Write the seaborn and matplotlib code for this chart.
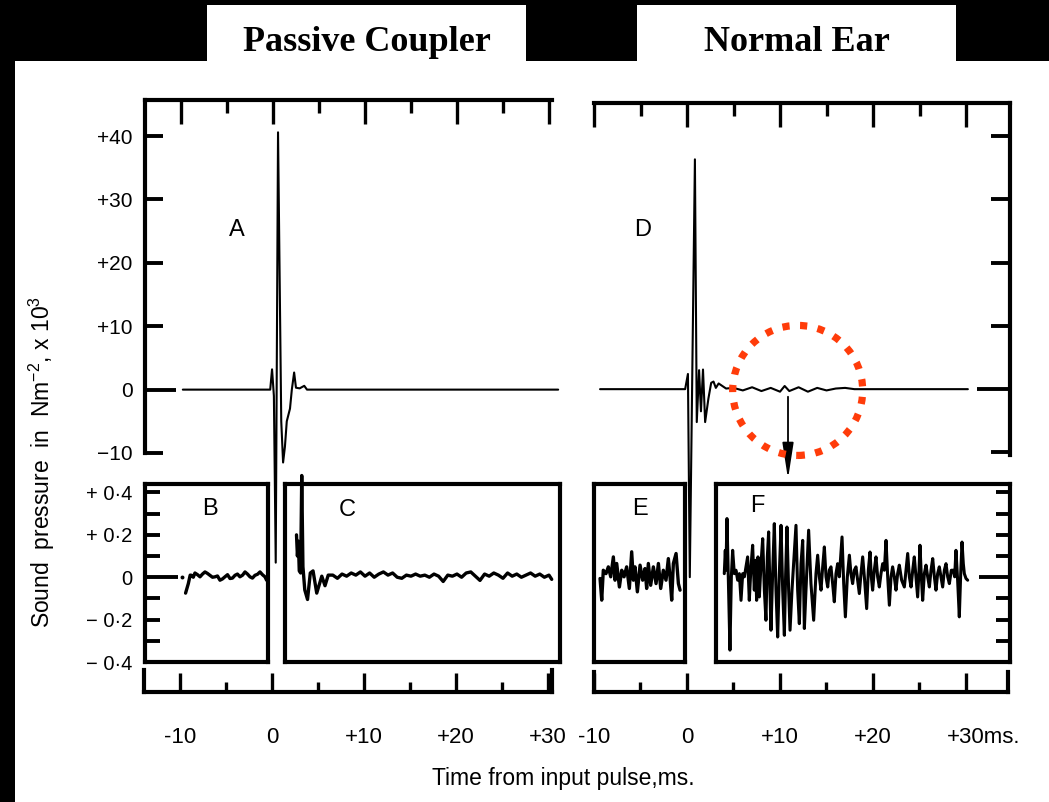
import numpy as np
import pandas as pd
import matplotlib
matplotlib.use("Agg")
import matplotlib.pyplot as plt
import seaborn as sns
from matplotlib.patches import Rectangle, Ellipse
from matplotlib.ticker import FixedLocator

# ---------------- data (time in ms, pressure) ----------------
A_t = [-9.8, -0.3, -0.1, 0.1, 0.3, 0.55, 0.9, 1.1, 1.3, 1.5, 1.85, 2.05, 2.3, 2.5, 2.9, 3.4, 3.7, 31.0]
A_v = [0, 0, 3.2, -1, -27.3, 40.6, -5, -11.5, -9, -5, -3, 0, 2.7, 0.3, 0.2, 0.6, 0, 0]

D_t = [-9.35, -0.2, 0.1, 0.3, 0.85, 1.05, 1.3, 1.5, 1.72, 1.95, 2.3, 2.6, 2.85, 3.1, 3.4, 3.7, 4.2,
       5.0, 6.0, 7.0, 8.0, 9.0, 10.0, 10.5, 11.0, 12.0, 13.0, 14.0, 15.0, 16.0, 17.0, 18.0, 30.2]
D_v = [0, 0, 2.4, -29.7, 36.3, -5.2, 3.0, -3.5, 3.1, -5.2, -1.5, 1.0, 1.2, 0.2, 0.9, 0.6, 0.1,
       0.2, -0.2, 0.3, -0.3, 0.2, -0.4, 0.5, -0.3, 0.3, -0.4, 0.2, -0.2, 0.1, 0.2, 0, 0]

B_t = [-9.5, -9.2, -9.0, -8.84, -8.66, -8.48, -8.2, -7.93, -7.66, -7.39, -7.12, -6.85, -6.57, -6.30,
       -6.03, -5.76, -5.49, -5.22, -4.94, -4.67, -4.4, -4.13, -3.86, -3.59, -3.3, -3.04, -2.77,
       -2.50, -2.23, -1.96, -1.68, -1.41, -1.14, -0.87, -0.69]
B_v = [-0.075, -0.03, 0.01, 0.009, 0.0, 0.020, 0.012, 0.002, 0.015, 0.025, 0.018, 0.009, 0.0, 0.002,
       0.006, -0.014, -0.008, 0.002, 0.012, -0.006, -0.004, 0.009, 0.015, 0.002, 0.01, 0.025, 0.015,
       0.002, -0.004, 0.009, 0.014, 0.025, 0.012, 0.002, -0.014]
B_dot_t = [-9.9]
B_dot_v = [0.0]

C_t = [2.55, 2.65, 2.75, 2.85, 3.0, 3.12, 3.25, 3.45, 3.75, 4.05, 4.35, 4.75, 5.3, 5.65, 6.0,
       6.5, 7.0, 7.5, 8.0, 8.5, 9.0, 9.5, 10.0, 10.5, 11.0, 11.5, 12.0, 12.5, 13.0, 13.5, 14.0,
       14.5, 15.0, 15.5, 16.0, 16.5, 17.0, 17.5, 18.0, 18.5, 19.0, 19.5, 20.0, 20.5, 21.0, 21.5,
       22.0, 22.5, 23.0, 23.5, 24.0, 24.5, 25.0, 25.5, 26.0, 26.5, 27.0, 27.5, 28.0, 28.5, 29.0,
       29.5, 30.0, 30.3]
C_v = [0.20, 0.10, 0.17, 0.03, 0.02, 0.48, 0.05, -0.06, -0.105, 0.02, 0.03, -0.075, 0.005, -0.04, 0.01,
       0.01, -0.005, 0.015, 0.005, 0.02, 0.01, 0.025, 0.005, 0.02, 0.0, 0.015, 0.025, 0.01, 0.02, 0.0,
       -0.005, 0.01, 0.005, 0.015, 0.005, 0.01, 0.0, 0.015, 0.005, -0.02, 0.01, 0.005, 0.015, 0.0,
       0.02, 0.025, 0.005, -0.015, 0.015, 0.005, 0.02, 0.01, -0.005, 0.02, 0.005, 0.015, 0.0, 0.01,
       0.02, 0.005, 0.015, 0.0, 0.01, -0.01]

E_t = [-9.35, -9.17, -9.0, -8.71, -8.46, -8.2, -7.92, -7.74, -7.56, -7.27, -7.02, -6.77, -6.49, -6.2,
       -5.95, -5.77, -5.59, -5.34, -5.05, -4.77, -4.52, -4.34, -4.16, -3.91, -3.62, -3.33, -3.08,
       -2.83, -2.55, -2.26, -2.01, -1.83, -1.65, -1.47, -1.18, -0.93, -0.75]
E_v = [-0.006, -0.108, 0.033, 0.017, 0.049, 0.002, 0.096, -0.014, 0.065, -0.046, 0.033, 0.002, 0.049,
       -0.053, 0.12, -0.014, 0.049, -0.069, 0.057, -0.014, 0.041, -0.053, 0.065, -0.038, 0.049, -0.030,
       0.065, -0.053, 0.033, -0.014, 0.088, 0.002, -0.108, 0.065, 0.112, -0.030, -0.061]

F_t = [4.01, 4.12, 4.19, 4.30, 4.48, 4.62, 4.77, 4.91, 5.09, 5.27, 5.45, 5.63, 5.81, 5.99, 6.17, 6.34,
       6.52, 6.70, 6.88, 7.06, 7.24, 7.35, 7.49, 7.63, 7.78, 7.96, 8.14, 8.32, 8.49, 8.64, 8.78, 8.92,
       9.03, 9.21, 9.39, 9.57, 9.75, 9.93, 10.11, 10.29, 10.47, 10.61, 10.75, 10.93, 11.08, 11.29,
       11.51, 11.72, 11.90, 12.08, 12.26, 12.44, 12.55, 12.62, 12.87, 13.08, 13.33, 13.62, 13.87,
       14.05, 14.23, 14.41, 14.59, 14.77, 14.95, 15.13, 15.30, 15.48, 15.66, 15.84, 16.02, 16.20,
       16.38, 16.67, 16.85, 17.03, 17.24, 17.46, 17.63, 17.81, 17.99, 18.17, 18.35, 18.53, 18.71,
       18.89, 19.10, 19.32, 19.50, 19.68, 19.82, 19.96, 20.14, 20.32, 20.50, 20.68, 20.86, 21.04,
       21.22, 21.40, 21.58, 21.76, 21.94, 22.11, 22.29, 22.47, 22.65, 22.83, 23.08, 23.37, 23.55,
       23.73, 23.91, 24.09, 24.27, 24.44, 24.62, 24.80, 24.95, 25.05, 25.20, 25.34, 25.52, 25.70,
       25.88, 26.06, 26.24, 26.42, 26.60, 26.77, 26.95, 27.13, 27.31, 27.49, 27.67, 27.85, 28.03,
       28.21, 28.42, 28.64, 28.78, 28.92, 29.10, 29.28, 29.43, 29.57, 29.71, 29.82, 30.00, 30.18]
F_v = [0.017, 0.127, 0.033, 0.277, -0.061, -0.344, 0.002, 0.127, 0.017, 0.033, -0.014, 0.017, -0.109,
       0.017, 0.002, 0.049, 0.096, -0.109, 0.049, 0.151, -0.061, 0.080, -0.109, 0.096, -0.093, 0.064,
       0.182, -0.061, -0.203, 0.096, 0.214, -0.061, -0.250, 0.017, 0.253, -0.061, -0.282, 0.017, 0.245,
       -0.061, -0.274, 0.017, 0.237, -0.061, -0.250, -0.061, 0.096, 0.245, -0.061, -0.219, 0.064,
       0.174, -0.061, -0.242, 0.017, 0.222, -0.030, -0.203, 0.017, 0.104, 0.002, -0.061, 0.049,
       0.143, 0.002, -0.046, 0.033, 0.049, -0.030, -0.116, 0.017, 0.064, 0.002, 0.190, -0.030,
       -0.187, 0.002, 0.104, 0.017, -0.030, 0.033, 0.049, -0.014, -0.077, 0.017, 0.096, -0.014,
       -0.148, 0.033, 0.119, 0.002, -0.061, 0.033, 0.096, 0.002, -0.046, 0.017, 0.064, 0.033, 0.174,
       0.002, -0.132, 0.002, 0.049, 0.002, -0.061, 0.017, 0.057, -0.014, -0.046, 0.033, 0.112, 0.002,
       -0.046, 0.033, 0.096, 0.002, -0.093, 0.033, 0.151, 0.002, -0.109, 0.017, 0.057, 0.002, -0.046,
       0.033, 0.088, 0.002, -0.061, 0.017, 0.049, 0.002, -0.046, 0.033, 0.064, 0.002, -0.030, 0.033,
       0.033, 0.002, 0.127, -0.014, -0.187, 0.017, 0.166, 0.064, 0.017, -0.006, -0.014]

top_yticks = [-10, 0, 10, 20, 30, 40]
top_ylabels = ["\u221210", "0", "+10", "+20", "+30", "+40"]
low_yticks = [-0.4, -0.3, -0.2, -0.1, 0.0, 0.1, 0.2, 0.3, 0.4]
low_ylabels = ["\u2212 0\u00b74", "", "\u2212 0\u00b72", "", "0", "", "+ 0\u00b72", "", "+ 0\u00b74"]
x_major = [-10, 0, 10, 20, 30]
x_minor = [-5, 5, 15, 25]
xl_left = ["-10", "0", "+10", "+20", "+30"]
xl_right = ["-10", "0", "+10", "+20", ""]
xl_right_last = "+30ms."

# ---------------- style ----------------
sns.set_style("white")
plt.rcParams["font.family"] = ["Liberation Sans", "DejaVu Sans"]
plt.rcParams["mathtext.fontset"] = "custom"
plt.rcParams["mathtext.rm"] = "Liberation Sans"
plt.rcParams["mathtext.it"] = "Liberation Sans"
for key in ["text.color", "axes.labelcolor", "xtick.color", "ytick.color", "axes.edgecolor"]:
    plt.rcParams[key] = "black"

W, H = 1049, 802
fig = plt.figure(figsize=(W / 100, H / 100), dpi=100, facecolor="black")


def rect(x0, y0, x1, y1):
    return [x0 / W, 1 - y1 / H, (x1 - x0) / W, (y1 - y0) / H]


for (x0, y0, x1, y1) in [(15, 61, 1049, 802), (207, 5, 526, 62), (637, 5, 956, 62)]:
    fig.add_artist(Rectangle((x0 / W, 1 - y1 / H), (x1 - x0) / W, (y1 - y0) / H,
                             transform=fig.transFigure, facecolor="white",
                             edgecolor="none", zorder=-5))

SP = 3.0  # spine width (pt)


def style_axes(ax, spines):
    ax.set_facecolor("none")
    for s in ["left", "right", "top", "bottom"]:
        ax.spines[s].set_visible(s in spines)
        ax.spines[s].set_linewidth(SP)
        ax.spines[s].set_color("black")
        ax.spines[s].set_capstyle("projecting")
    ax.tick_params(axis="both", which="both", left=False, right=False, top=False, bottom=False,
                   labelleft=False, labelright=False, labeltop=False, labelbottom=False,
                   color="black", labelcolor="black")
    ax.grid(False)


def trace(ax, t, v, lw, clip=True):
    df = pd.DataFrame({"t": t, "v": v})
    sns.lineplot(data=df, x="t", y="v", ax=ax, color="black", lw=lw, estimator=None,
                 sort=False, clip_on=clip, solid_joinstyle="round")
    ax.set_xlabel("")
    ax.set_ylabel("")


# ---------------- top-left panel A ----------------
axA = fig.add_axes(rect(145, 100, 552, 453))
style_axes(axA, ["left", "top"])
trace(axA, A_t, A_v, 1.5, clip=False)
axA.set_xlim(-13.91, 30.33)
axA.set_ylim(-10.0, 45.7)
axA.yaxis.set_major_locator(FixedLocator(top_yticks))
axA.set_yticklabels(top_ylabels)
axA.tick_params(axis="y", which="major", direction="in", left=True, labelleft=True,
                length=13, width=2.8, labelsize=15, pad=9)
axA.set_xticks(x_major)
axA.set_xticks(x_minor, minor=True)
axA.tick_params(axis="x", which="major", direction="in", top=True, length=17, width=2.4)
axA.tick_params(axis="x", which="minor", direction="in", top=True, length=9, width=2.4)
axA.yaxis.get_major_ticks()[1].tick1line.set_markersize(22)

# ---------------- top-right panel D ----------------
axD = fig.add_axes(rect(594, 103, 1010, 455))
style_axes(axD, ["right", "top"])
trace(axD, D_t, D_v, 1.5, clip=False)
axD.set_xlim(-10, 34.73)
axD.set_ylim(-10.4, 45.2)
axD.yaxis.set_major_locator(FixedLocator(top_yticks))
axD.tick_params(axis="y", which="major", direction="in", right=True, length=14, width=2.8)
axD.yaxis.get_major_ticks()[1].tick2line.set_markersize(24)
axD.set_xticks(x_major)
axD.set_xticks(x_minor, minor=True)
axD.tick_params(axis="x", which="major", direction="in", top=True, length=17, width=2.4)
axD.tick_params(axis="x", which="minor", direction="in", top=True, length=9, width=2.4)

circ = Ellipse((11.9, -0.2), width=130 / 9.3, height=130 / 6.33, fill=False,
               edgecolor="#ff3c0a", lw=5.2, linestyle=(0, (1.0, 1.45)), clip_on=False, zorder=5)
circ.set_capstyle("butt")
axD.add_patch(circ)
axD.annotate("", xy=(10.86, -14.2), xytext=(10.86, -1.2), annotation_clip=False,
             arrowprops=dict(arrowstyle="-|>,head_length=1.1,head_width=0.17",
                             color="black", lw=1.3, mutation_scale=20, shrinkA=0, shrinkB=0))

# ---------------- lower boxes ----------------
LY = (-0.4, 0.44)
axB = fig.add_axes(rect(145, 484, 268, 662))
style_axes(axB, ["left", "right", "top", "bottom"])
trace(axB, B_t, B_v, 2.4)
sns.scatterplot(x=B_dot_t, y=B_dot_v, ax=axB, color="black", s=8, linewidth=0)
axB.set_xlim(-13.91, -0.54)
axB.set_ylim(*LY)
axB.yaxis.set_major_locator(FixedLocator(low_yticks))
axB.set_yticklabels(low_ylabels)
axB.tick_params(axis="y", which="major", direction="in", left=True, labelleft=True,
                length=11, width=2.8, labelsize=14.5, pad=9)
axB.yaxis.get_major_ticks()[4].tick1line.set_markersize(24)

axC = fig.add_axes(rect(285, 484, 560, 662))
style_axes(axC, ["left", "right", "top", "bottom"])
trace(axC, C_t, C_v, 2.4, clip=False)
axC.set_xlim(1.30, 31.2)
axC.set_ylim(*LY)

axE = fig.add_axes(rect(594, 484, 685, 662))
style_axes(axE, ["left", "right", "top", "bottom"])
trace(axE, E_t, E_v, 2.4)
axE.set_xlim(-10, -0.22)
axE.set_ylim(*LY)

axF = fig.add_axes(rect(716, 484, 1010, 662))
style_axes(axF, ["left", "right", "top", "bottom"])
trace(axF, F_t, F_v, 2.2)
axF.set_xlim(3.12, 34.73)
axF.set_ylim(*LY)
axF.yaxis.set_major_locator(FixedLocator(low_yticks[1:]))
axF.tick_params(axis="y", which="major", direction="in", right=True, length=10, width=2.8)
axF.yaxis.get_major_ticks()[3].tick2line.set_markersize(22)

# ---------------- bottom time axes ----------------
def time_axis(x0, x1, y0, xlim, labels):
    ax = fig.add_axes(rect(x0, y0, x1, 692))
    style_axes(ax, ["left", "right", "bottom"])
    ax.set_xlim(*xlim)
    ax.set_ylim(0, 1)
    ax.set_xticks(x_major)
    ax.set_xticks(x_minor, minor=True)
    ax.set_xticklabels(labels)
    ax.tick_params(axis="x", which="major", direction="in", bottom=True, labelbottom=True,
                   length=14, width=2.4, labelsize=16, pad=25)
    ax.tick_params(axis="x", which="minor", direction="in", bottom=True, length=7, width=2.4)
    return ax

axBL = time_axis(144, 552, 670, (-13.91, 30.44), xl_left)
axBR = time_axis(594, 1008, 672, (-10, 34.52), xl_right)
# last label "+30ms.": the "+30" part centred on the 30 ms tick
axBR.annotate(xl_right_last, xy=(x_major[-1], 0), xycoords=("data", "axes fraction"),
              xytext=(-13.6, -25), textcoords="offset points", ha="left", va="top",
              fontsize=16, annotation_clip=False)

# ---------------- texts ----------------
fig.text(367 / W, 1 - 51 / H, "Passive Coupler", ha="center", va="baseline",
         fontsize=26, fontweight="bold", family="Liberation Serif")
fig.text(797 / W, 1 - 51 / H, "Normal Ear", ha="center", va="baseline",
         fontsize=26, fontweight="bold", family="Liberation Serif")
for lab, x, y in [("A", 237, 230), ("D", 643, 230), ("B", 210, 509), ("C", 347, 510),
                  ("E", 640, 509), ("F", 757, 506)]:
    fig.text(x / W, 1 - y / H, lab, ha="center", va="center", fontsize=17)
fig.text(42 / W, 1 - 462 / H, "Sound  pressure  in  Nm$^{-2}$, x 10$^{3}$", rotation=90,
         ha="center", va="center", fontsize=16.5)
fig.text(563 / W, 1 - 778 / H, "Time from input pulse,ms.", ha="center", va="center",
         fontsize=16.5)

fig.savefig("out.png", dpi=100, facecolor="black")
